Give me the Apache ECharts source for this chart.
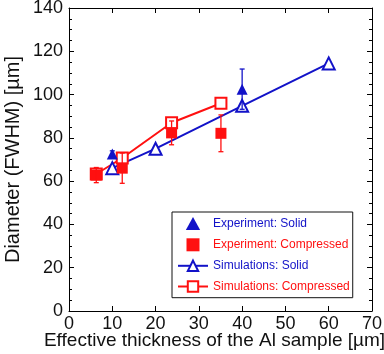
<!DOCTYPE html>
<html>
<head>
<meta charset="utf-8">
<script src="https://cdn.jsdelivr.net/npm/echarts@6/dist/echarts.min.js"></script>
<style>
  html, body { margin: 0; padding: 0; background: #fff; }
  #chart { width: 384px; height: 354px; }
</style>
</head>
<body>
<div id="chart"></div>
<script>
// Measured beam diameter (FWHM) vs. effective Al thickness
const expSolidX = [10, 40];
const expSolidY = [72.5, 102.5];
const expSolidErr = [1.5, 9.3];

const expCompX = [6.3, 12.3, 23.7, 35.1];
const expCompY = [62.8, 66, 82.3, 82.1];
const expCompErr = [3.5, 7, 5.5, 8.5];

const simSolidX = [10, 20, 40, 60];
const simSolidY = [66, 75, 94.8, 114.4];

const simCompX = [6.3, 12.3, 23.7, 35.1];
const simCompY = [63.3, 70.7, 87, 96];

const names = ['Experiment: Solid', 'Experiment: Compressed', 'Simulations: Solid', 'Simulations: Compressed'];

const BLUE = '#1212c8';
const RED = '#ff1010';
const FONT = '"Liberation Sans", Arial, sans-serif';

// square-aspect legend icons for the marker-only series
const ICON_TRIANGLE = 'path://M0,10L5.5,0L11,10Z';
const ICON_SQUARE = 'path://M0,0H10V10H0Z';

const pairs = (xs, ys) => xs.map((x, i) => [x, ys[i]]);

function errorBars(xs, ys, errs, color) {
  return {
    type: 'custom',
    z: 6,
    silent: true,
    encode: { x: 0, y: [1, 2] },
    data: xs.map((x, i) => [x, ys[i] - errs[i], ys[i] + errs[i]]),
    renderItem(params, api) {
      const lo = api.coord([api.value(0), api.value(1)]);
      const hi = api.coord([api.value(0), api.value(2)]);
      const c = 2.5;
      const st = { stroke: color, lineWidth: 1.3 };
      return {
        type: 'group',
        children: [
          { type: 'line', shape: { x1: lo[0], y1: lo[1], x2: hi[0], y2: hi[1] }, style: st },
          { type: 'line', shape: { x1: lo[0] - c, y1: lo[1], x2: lo[0] + c, y2: lo[1] }, style: st },
          { type: 'line', shape: { x1: hi[0] - c, y1: hi[1], x2: hi[0] + c, y2: hi[1] }, style: st }
        ]
      };
    }
  };
}

const axisLine = { show: true, onZero: false, lineStyle: { color: '#000', width: 1 } };

const chart = echarts.init(document.getElementById('chart'), null, { renderer: 'canvas' });
chart.setOption({
  animation: false,
  backgroundColor: '#fff',
  textStyle: { fontFamily: FONT },
  grid: { left: 69, right: 12, top: 8, bottom: 43, containLabel: false, outerBoundsMode: 'none' },
  xAxis: [
    {
      type: 'value', min: 0, max: 70, interval: 10, position: 'bottom',
      axisLine: axisLine,
      axisTick: { show: true, inside: true, length: 5, lineStyle: { color: '#000' } },
      axisLabel: { show: true, color: '#111', fontSize: 18, fontFamily: FONT, margin: 4 },
      splitLine: { show: false },
      name: 'Effective thickness of the Al sample [\u00b5m]',
      nameLocation: 'middle', nameGap: 20, nameMoveOverlap: false,
      nameTextStyle: { color: '#111', fontSize: 19, fontFamily: FONT, padding: [0, 12, 0, 0] }
    },
    {
      type: 'value', min: 0, max: 70, interval: 10, position: 'top',
      axisLine: axisLine,
      axisTick: { show: true, inside: true, length: 5, lineStyle: { color: '#000' } },
      axisLabel: { show: false },
      splitLine: { show: false }
    }
  ],
  yAxis: [
    {
      type: 'value', min: 0, max: 140, interval: 20, position: 'left',
      axisLine: axisLine,
      axisTick: { show: true, inside: true, length: 5, lineStyle: { color: '#000' } },
      minorTick: { show: true, splitNumber: 4, length: 3, lineStyle: { color: '#000' } },
      axisLabel: { show: true, color: '#111', fontSize: 18, fontFamily: FONT, margin: 6 },
      splitLine: { show: false },
      name: 'Diameter (FWHM) [\u00b5m]',
      nameLocation: 'middle', nameGap: 45.5, nameMoveOverlap: false,
      nameTextStyle: { color: '#111', fontSize: 20, fontFamily: FONT }
    },
    {
      type: 'value', min: 0, max: 140, interval: 20, position: 'right',
      axisLine: axisLine,
      axisTick: { show: true, inside: true, length: 5, lineStyle: { color: '#000' } },
      minorTick: { show: true, splitNumber: 4, length: 3, lineStyle: { color: '#000' } },
      axisLabel: { show: false },
      splitLine: { show: false }
    }
  ],
  legend: {
    orient: 'vertical',
    left: 172, top: 212,
    padding: [5, 3, 5, 5],
    itemWidth: 30, itemHeight: 13, itemGap: 8.3,
    symbolKeepAspect: true,
    borderColor: '#111', borderWidth: 1,
    backgroundColor: '#fff',
    textStyle: { fontSize: 12, fontFamily: FONT },
    data: [
      { name: names[0], icon: ICON_TRIANGLE, textStyle: { color: BLUE } },
      { name: names[1], icon: ICON_SQUARE, textStyle: { color: RED } },
      { name: names[2], textStyle: { color: BLUE } },
      { name: names[3], textStyle: { color: RED } }
    ]
  },
  series: [
    {
      name: names[2], type: 'line', z: 3,
      data: pairs(simSolidX, simSolidY),
      symbol: 'emptyTriangle', symbolSize: 12,
      lineStyle: { color: BLUE, width: 2 },
      itemStyle: { color: BLUE, borderWidth: 1.6 }
    },
    {
      name: names[3], type: 'line', z: 3,
      data: pairs(simCompX, simCompY),
      symbol: 'emptyRect', symbolSize: 11,
      lineStyle: { color: RED, width: 2 },
      itemStyle: { color: RED, borderWidth: 1.6 }
    },
    {
      name: names[0], type: 'scatter', z: 4,
      data: pairs(expSolidX, expSolidY),
      symbol: 'triangle', symbolSize: 11,
      itemStyle: { color: BLUE, opacity: 1 }
    },
    {
      name: names[1], type: 'scatter', z: 4,
      data: pairs(expCompX, expCompY),
      symbol: 'rect', symbolSize: 11,
      itemStyle: { color: RED, opacity: 1 }
    },
    errorBars(expSolidX, expSolidY, expSolidErr, BLUE),
    errorBars(expCompX, expCompY, expCompErr, RED)
  ]
});
</script>
</body>
</html>
